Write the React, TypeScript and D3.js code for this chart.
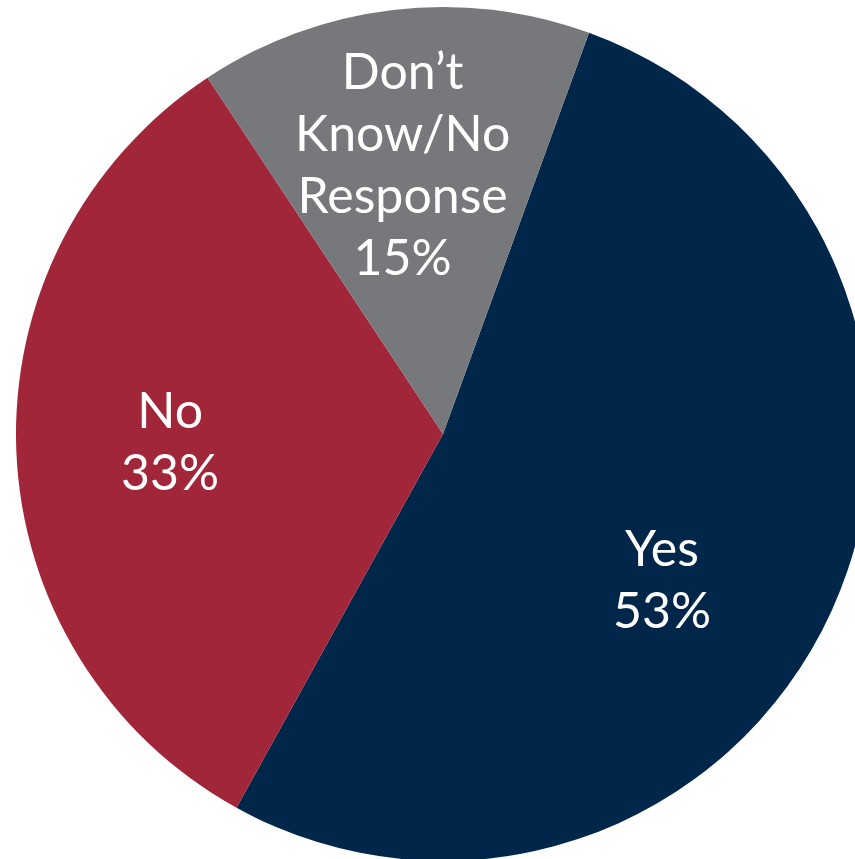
import React from "react";
import * as d3 from "d3";

const categories = ["Yes", "No", "Don\u2019t Know/No Response"];
const values = [53, 33, 15];
const valueLabels = ["53%", "33%", "15%"];
const labelLines = [["Yes"], ["No"], ["Don\u2019t", "Know/No", "Response"]];
const colors = ["#00264A", "#A12639", "#77787B"];

const W = 855;
const H = 859;

export default function App() {
  const cx = 443;
  const cy = 434;
  const r = 427;
  const start = (20 * Math.PI) / 180;
  const pie = d3
    .pie<number>()
    .sort(null)
    .value((d) => d)
    .startAngle(start)
    .endAngle(start + 2 * Math.PI);
  const arcs = pie(values);
  const arc = d3.arc<d3.PieArcDatum<number>>().innerRadius(0).outerRadius(r);
  const labelR = [263, 273, 272];
  const angleAdjust = [9.2, 0.6, -1.8];
  const fontSize = 50;
  const lineH = 62;

  return (
    <svg
      width={W}
      height={H}
      style={{ position: "absolute", left: 0, top: 0, background: "#fff" }}
    >
      <g transform={`translate(${cx},${cy})`}>
        {arcs.map((a, i) => (
          <path key={categories[i]} d={arc(a) || ""} fill={colors[i]} />
        ))}
        {arcs.map((a, i) => {
          const mid = (a.startAngle + a.endAngle) / 2 + (angleAdjust[i] * Math.PI) / 180;
          const x = labelR[i] * Math.sin(mid);
          const y = -labelR[i] * Math.cos(mid);
          const lines = [...labelLines[i], valueLabels[i]];
          const total = lines.length * lineH;
          return (
            <text
              key={"t" + i}
              x={x}
              textAnchor="middle"
              fill="#fff"
              fontFamily="Lato, 'Open Sans', sans-serif"
              fontSize={fontSize}
            >
              {lines.map((l, j) => (
                <tspan key={j} x={x} y={y - total / 2 + lineH * j + lineH * 0.78}>
                  {l}
                </tspan>
              ))}
            </text>
          );
        })}
      </g>
    </svg>
  );
}
